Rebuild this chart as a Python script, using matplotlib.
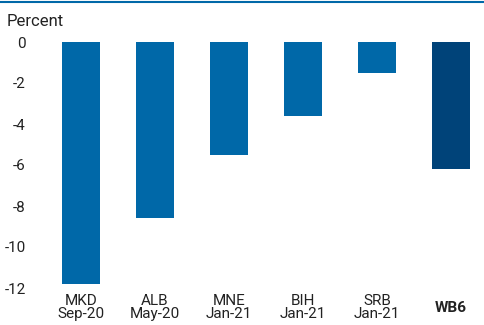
import matplotlib.pyplot as plt
from matplotlib.lines import Line2D

# Change in indicator by economy (percent)
countries = ['MKD', 'ALB', 'MNE', 'BIH', 'SRB', 'WB6']
dates = ['Sep-20', 'May-20', 'Jan-21', 'Jan-21', 'Jan-21', '']
values = [-11.8, -8.6, -5.5, -3.6, -1.5, -6.2]
yticks = [0, -2, -4, -6, -8, -10, -12]

blue = '#0068a8'
navy = '#004379'
text_col = '#222222'

plt.rcParams['font.family'] = ['Roboto', 'DejaVu Sans']

fig = plt.figure(figsize=(4.84, 3.25), dpi=100)
ax = fig.add_axes([44 / 484, 37 / 325, 440 / 484, 246 / 325])

colors = [blue] * (len(values) - 1) + [navy]
x = list(range(len(values)))
ax.bar(x, values, width=0.51, color=colors)

ax.set_xlim(-0.5, -0.5 + 440 / 74)
ax.set_ylim(-12, 0)
ax.set_yticks(yticks)
ax.set_yticklabels([str(v) for v in yticks], fontsize=11, color=text_col)
ax.set_xticks(x)
labels = [c + '\n' + d if d else c for c, d in zip(countries, dates)]
ax.set_xticklabels(labels, fontsize=11, color=text_col, linespacing=0.95)
ax.get_xticklabels()[-1].set_fontweight('bold')
ax.get_xticklabels()[-1].set_va('center')
ax.get_xticklabels()[-1].set_y(-0.057)
ax.tick_params(axis='both', length=0)
ax.tick_params(axis='y', pad=13)
ax.tick_params(axis='x', pad=4)
for s in ax.spines.values():
    s.set_visible(False)

fig.text(7 / 484, 1 - 21 / 325, 'Percent', fontsize=12, color=text_col, va='center')
fig.add_artist(Line2D([0, 1], [1 - 1.5 / 325] * 2, color=blue, lw=1.5,
                      transform=fig.transFigure))

fig.savefig('out.png', dpi=100)
